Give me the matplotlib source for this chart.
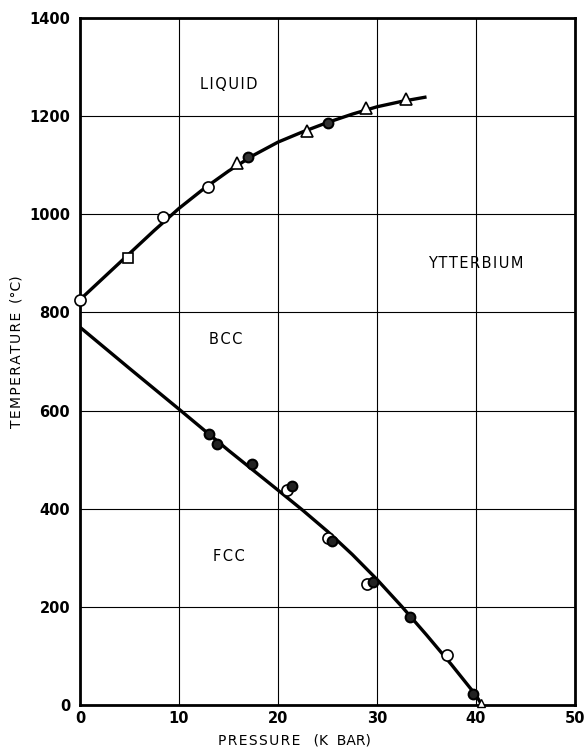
import numpy as np
import matplotlib
matplotlib.use("Agg")
import matplotlib.pyplot as plt

# ---- data ----
# melting curve (liquid / bcc boundary)
melt_curve_p = [0, 2.5, 5, 7.5, 10, 12.5, 15, 17.5, 20, 22.5, 25, 27.5, 30, 32.5, 35]
melt_curve_t = [826, 873, 920, 967, 1012, 1052, 1088, 1120, 1147, 1168, 1187, 1204, 1219, 1230, 1239]

melt_open_circle_p = [0, 8.4, 12.9]
melt_open_circle_t = [826, 994, 1055]
melt_square_p = [4.9]
melt_square_t = [910]
melt_triangle_p = [15.9, 22.9, 28.9, 32.9]
melt_triangle_t = [1104, 1169, 1216, 1234]
melt_filled_p = [17.0, 25.0]
melt_filled_t = [1117, 1185]

# bcc / fcc transition
trans_curve_p = [0, 5, 10, 15, 20, 22.5, 25, 27.5, 30, 32.5, 35, 37.5, 40, 40.6]
trans_curve_t = [770, 686, 603, 519, 438, 397, 354, 307, 256, 201, 143, 83, 20, 0]

trans_filled_p = [13.0, 13.8, 17.4, 21.4, 25.5, 29.6, 33.3, 39.7]
trans_filled_t = [553, 533, 492, 447, 335, 251, 180, 22]
trans_open_p = [20.9, 25.0, 29.0, 37.1]
trans_open_t = [439, 341, 247, 102]
trans_triangle_p = [40.5]
trans_triangle_t = [4]

x_ticks = [0, 10, 20, 30, 40, 50]
y_ticks = [0, 200, 400, 600, 800, 1000, 1200, 1400]

region_labels = ["LIQUID", "BCC", "FCC", "YTTERBIUM"]
region_p = [15.0, 14.7, 15.0, 40.0]
region_t = [1265, 744, 302, 899]

def spaced(s):
    return "\u200a".join(s)

# ---- figure ----
fig = plt.figure(figsize=(5.88, 7.47), dpi=100)
ax = fig.add_axes([0.136, 0.056, 0.842, 0.920])
ax.set_xlim(0, 50)
ax.set_ylim(0, 1400)
ax.set_xticks(x_ticks)
ax.set_yticks(y_ticks)
ax.set_xticklabels([str(v) for v in x_ticks], fontsize=10.5, fontweight='bold')
ax.set_yticklabels([str(v) for v in y_ticks], fontsize=10.5, fontweight='bold')
ax.tick_params(axis='x', length=0, pad=4)
ax.tick_params(axis='y', length=0, pad=7)
ax.grid(True, color='black', linewidth=0.8)
ax.set_axisbelow(True)
for s in ax.spines.values():
    s.set_linewidth(2.0)

ax.set_xlabel(spaced("PRESSURE") + "   (K  BAR)", fontsize=10)
ax.set_ylabel(spaced("TEMPERATURE") + "  (°C)", fontsize=10)
ax.xaxis.set_label_coords(0.434, -0.041)
ax.yaxis.set_label_coords(-0.115, 0.515)

# curves
ax.plot(melt_curve_p, melt_curve_t, color='black', lw=2.4, solid_capstyle='butt',
        solid_joinstyle='round', zorder=3)
ax.plot(trans_curve_p, trans_curve_t, color='black', lw=2.4, solid_capstyle='butt',
        solid_joinstyle='round', zorder=3)

mk = dict(linestyle='none', zorder=4)
ax.plot(melt_open_circle_p, melt_open_circle_t, marker='o', ms=8, mfc='white', mec='black', mew=1.2, clip_on=False, **mk)
ax.plot(melt_square_p, melt_square_t, marker='s', ms=7, mfc='white', mec='black', mew=1.2, **mk)
ax.plot(melt_triangle_p, melt_triangle_t, marker='^', ms=9, mfc='white', mec='black', mew=1.2, **mk)
ax.plot(melt_filled_p, melt_filled_t, marker='o', ms=7, mfc='#333333', mec='black', mew=1.5, **mk)

ax.plot(trans_open_p, trans_open_t, marker='o', ms=8, mfc='white', mec='black', mew=1.2, **mk)
ax.plot(trans_filled_p, trans_filled_t, marker='o', ms=7, mfc='#222222', mec='black', mew=1.5, **mk)
ax.plot(trans_triangle_p, trans_triangle_t, marker='^', ms=6, mfc='white', mec='black', mew=1.0, clip_on=False, **mk)

for lab, p, t in zip(region_labels, region_p, region_t):
    ax.text(p, t, spaced(lab), ha='center', va='center', fontsize=10.5)

fig.savefig("out.png", dpi=100, facecolor='white')
